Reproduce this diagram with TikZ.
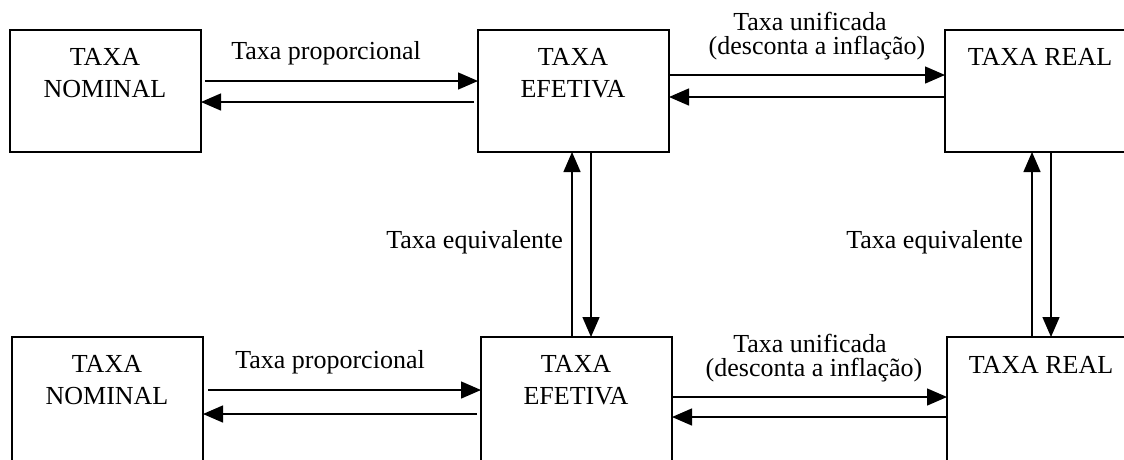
\documentclass[tikz,border=0pt]{standalone}
\usepackage{fontspec}
\setmainfont{Liberation Serif}
\usetikzlibrary{arrows.meta}
\begin{document}
\begin{tikzpicture}[x=1pt,y=-1pt,
  box/.style={draw, line width=1.6pt, minimum width=191pt, inner sep=0pt, outer sep=0pt},
  txt/.style={anchor=base, inner sep=0pt, font=\fontsize{26}{32}\selectfont},
  arr/.style={line width=1.4pt, -{Triangle[length=20pt,width=17pt]}}]
\clip (0,0) rectangle (1124,459);
\fill[white] (0,0) rectangle (1124,459);
% boxes
\node[box, minimum height=122pt] (tn) at (105.5,91) {};
\node[box, minimum height=122pt] (te) at (573.5,91) {};
\node[box, minimum height=122pt] (tr) at (1040.5,91) {};
\node[box, minimum height=133pt] (bn) at (107.5,403.5) {};
\node[box, minimum height=133pt] (be) at (576.5,403.5) {};
\node[box, minimum height=133pt] (br) at (1042.5,403.5) {};
% box texts
\node[txt] (tn1) at (105,65) {TAXA};
\node[txt] (tn2) at (105,97) {NOMINAL};
\node[txt] (te1) at (573,65) {TAXA};
\node[txt] (te2) at (573,97) {EFETIVA};
\node[txt] (tr1) at (1040,65) {TAXA REAL};
\node[txt] (bn1) at (107,372) {TAXA};
\node[txt] (bn2) at (107,404) {NOMINAL};
\node[txt] (be1) at (576,372) {TAXA};
\node[txt] (be2) at (576,404) {EFETIVA};
\node[txt] (br1) at (1041,373) {TAXA REAL};
% top row arrows
\draw[arr] ([xshift=4pt]tn.east |- 0,81) -- (te.west |- 0,81);
\draw[arr] ([xshift=-4pt]te.west |- 0,102) -- (tn.east |- 0,102);
\draw[arr] (te.east |- 0,75) -- (tr.west |- 0,75);
\draw[arr] (tr.west |- 0,97) -- (te.east |- 0,97);
% vertical arrows
\draw[arr] (be.north -| 572,0) -- (te.south -| 572,0);
\draw[arr] (te.south -| 591,0) -- (be.north -| 591,0);
\draw[arr] (br.north -| 1032,0) -- (tr.south -| 1032,0);
\draw[arr] (tr.south -| 1051,0) -- (br.north -| 1051,0);
% bottom row arrows
\draw[arr] ([xshift=5pt]bn.east |- 0,390) -- (be.west |- 0,390);
\draw[arr] ([xshift=-4pt]be.west |- 0,414) -- (bn.east |- 0,414);
\draw[arr] (be.east |- 0,397) -- (br.west |- 0,397);
\draw[arr] (br.west |- 0,417) -- (be.east |- 0,417);
% labels
\node[txt] (lp1) at (326,59) {Taxa proporcional};
\node[txt] (lu1) at (810,30) {Taxa unificada};
\node[txt] (ld1) at (817,54) {(desconta a inflação)};
\node[txt, anchor=base east] (le1) at (563,248) {Taxa equivalente};
\node[txt, anchor=base east] (le2) at (1023,248) {Taxa equivalente};
\node[txt] (lp2) at (330,368) {Taxa proporcional};
\node[txt] (lu2) at (810,352) {Taxa unificada};
\node[txt] (ld2) at (814,376) {(desconta a inflação)};
\end{tikzpicture}
\end{document}
